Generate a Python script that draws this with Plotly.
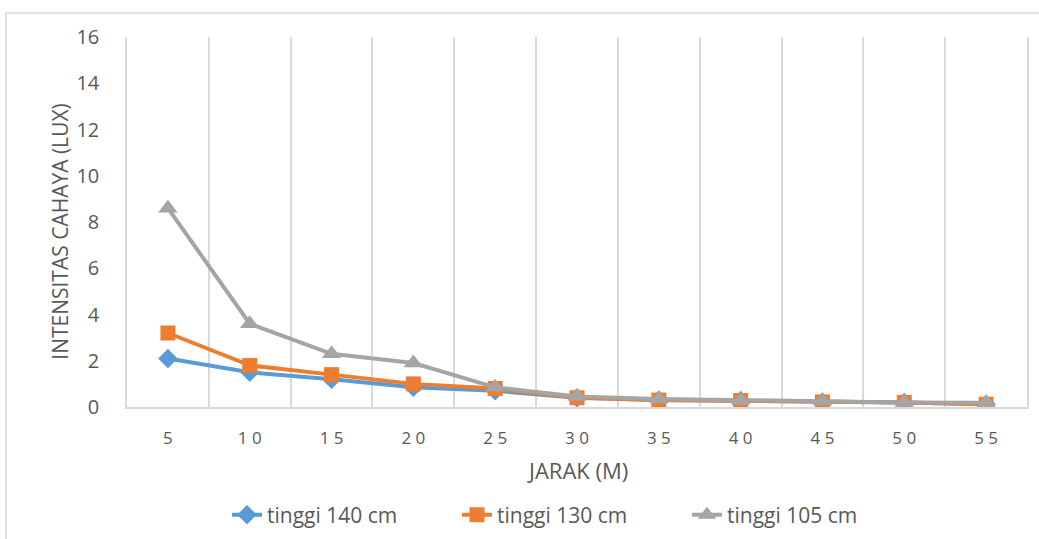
import plotly.graph_objects as go

categories = [5, 10, 15, 20, 25, 30, 35, 40, 45, 50, 55]
tinggi_140 = [2.1, 1.5, 1.2, 0.85, 0.7, 0.4, 0.3, 0.28, 0.22, 0.2, 0.12]
tinggi_130 = [3.2, 1.8, 1.4, 1.0, 0.8, 0.4, 0.3, 0.28, 0.22, 0.2, 0.12]
tinggi_105 = [8.6, 3.6, 2.3, 1.9, 0.85, 0.45, 0.35, 0.28, 0.25, 0.2, 0.18]
y_ticks = [0, 2, 4, 6, 8, 10, 12, 14, 16]

x_labels = [str(c) for c in categories]
x_ticktext = [" ".join(str(c)) for c in categories]

FONT = "Open Sans"
TXT = "#595959"
GRID = "#D9D9D9"

# plot-area pixel geometry (for placing titles)
PL, PR, PT, PB = 127, 1027, 37, 407.5
PW, PH = PR - PL, PB - PT

def px_x(x):
    return (x - PL) / PW

def px_y(y):
    return (PB - y) / PH

# name, values, colour, marker symbol, marker size, legend id, legend x (px)
series = [
    ("tinggi 140 cm", tinggi_140, "#5B9BD5", "diamond", 15, "legend", 227),
    ("tinggi 130 cm", tinggi_130, "#ED7D31", "square", 15, "legend2", 457),
    ("tinggi 105 cm", tinggi_105, "#A5A5A5", "triangle-up", 17, "legend3", 687),
]

fig = go.Figure()
legend_layout = {}
for name, vals, color, sym, size, leg, lx in series:
    fig.add_trace(go.Scatter(
        x=x_labels, y=vals, name=name, mode="lines+markers",
        line=dict(color=color, width=4),
        marker=dict(symbol=sym, size=size, color=color, line=dict(width=0)),
        legend=leg,
    ))
    legend_layout[leg] = dict(
        xref="container", yref="container",
        x=lx / 1039, xanchor="left", y=1 - 515 / 539, yanchor="middle",
        orientation="h", bgcolor="rgba(0,0,0,0)",
        font=dict(size=21, color=TXT, family=FONT),
    )

fig.update_layout(
    width=1039, height=539,
    margin=dict(l=PL, r=1039 - PR, t=PT, b=539 - PB, autoexpand=False),
    paper_bgcolor="white", plot_bgcolor="white",
    font=dict(family=FONT, color=TXT, size=18),
    showlegend=True,
    shapes=[dict(type="rect", xref="paper", yref="paper",
                 x0=px_x(6), x1=1.1, y0=-0.5, y1=px_y(13),
                 line=dict(color=GRID, width=1.5), fillcolor="rgba(0,0,0,0)", layer="below")],
    annotations=[
        dict(text="INTENSITAS CAHAYA (LUX)", textangle=-90, xref="paper", yref="paper",
             x=px_x(60), y=px_y(232), xanchor="center", yanchor="middle", showarrow=False,
             font=dict(size=21, color=TXT, family=FONT)),
        dict(text="JARAK (M)", xref="paper", yref="paper",
             x=px_x(577), y=px_y(471), xanchor="center", yanchor="middle", showarrow=False,
             font=dict(size=22, color=TXT, family=FONT)),
    ],
    **legend_layout,
)

fig.update_xaxes(
    type="category", categoryorder="array", categoryarray=x_labels,
    tickmode="array", tickvals=x_labels, ticktext=x_ticktext,
    range=[-0.5, 10.5], tickson="boundaries",
    showgrid=True, gridcolor=GRID, gridwidth=1.5,
    showline=True, linecolor=GRID, linewidth=1.5,
    ticks="", ticklabelstandoff=15,
    tickfont=dict(size=17, color=TXT, family=FONT),
    zeroline=False, automargin=False,
)
fig.update_yaxes(
    range=[0, 16], tickmode="array", tickvals=y_ticks,
    showgrid=False, zeroline=False, showline=True, linecolor=GRID, linewidth=1.5,
    mirror=True, ticks="",
    ticklabelstandoff=22,
    tickfont=dict(size=20, color=TXT, family=FONT),
    automargin=False,
)

fig.write_html("out.html")
